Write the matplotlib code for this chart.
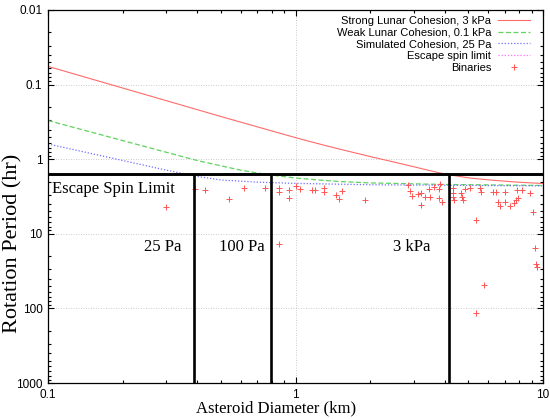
import matplotlib
matplotlib.use("Agg")
import matplotlib.pyplot as plt
from matplotlib.ticker import LogLocator, NullFormatter, FixedFormatter, FixedLocator

# cohesion curves: diameter (km) vs rotation period (hr)
d_strong = [0.1, 0.2, 0.5, 0.804, 1.005, 1.25, 1.50, 2.0, 2.81, 3.34, 3.835, 4.33, 5.07, 6.11, 7.71, 10.0]
p_strong = [0.057, 0.111, 0.268, 0.419, 0.516, 0.626, 0.730, 0.920, 1.196, 1.374, 1.53, 1.65, 1.79, 1.90, 2.02, 2.12]

d_weak = [0.1, 0.15, 0.2, 0.3, 0.4, 0.5, 0.591, 0.70, 0.842, 1.005, 1.256, 1.513, 2.0, 4.0, 10.0]
p_weak = [0.303, 0.435, 0.562, 0.806, 1.04, 1.226, 1.386, 1.53, 1.67, 1.79, 1.905, 1.99, 2.08, 2.18, 2.25]

d_sim = [0.1, 0.15, 0.2, 0.3, 0.4, 0.5, 0.7, 1.0, 2.0, 10.0]
p_sim = [0.626, 0.841, 1.04, 1.40, 1.70, 1.90, 2.03, 2.11, 2.20, 2.28]

escape_period = 1.6
cohesion_bounds = [0.39, 0.796, 4.18]
bound_labels = ["25 Pa", "100 Pa", "3 kPa"]

# binary asteroids
bin_d = [0.30, 0.391, 0.429, 0.540, 0.621, 0.753, 0.860, 0.860, 0.854, 0.941,
         0.941, 1.005, 1.04, 1.163, 1.196, 1.304, 1.304, 1.457, 1.499, 1.548,
         1.909, 2.835, 2.90, 2.956, 3.134, 3.216, 3.21, 3.337, 3.464, 3.496,
         3.628, 3.835, 3.81, 3.80, 3.89, 4.33, 4.33, 4.32, 4.37, 4.65,
         4.69, 4.74, 4.84, 5.05, 5.57, 5.62, 6.30, 6.48, 6.99, 6.60,
         6.70, 7.02, 7.36, 7.63, 7.80, 7.95, 7.87, 8.20, 8.82, 9.11,
         5.34, 9.24, 9.37, 9.46, 5.79, 5.36]
bin_p = [4.39, 2.49, 2.60, 3.46, 2.41, 2.41, 2.41, 2.77, 13.6, 2.60,
         3.33, 2.32, 2.51, 2.62, 2.60, 2.43, 2.77, 3.01, 3.39, 2.69,
         3.57, 2.24, 2.71, 3.16, 2.91, 2.85, 4.17, 3.19, 2.54, 3.21,
         2.39, 2.18, 2.54, 3.29, 3.72, 2.47, 2.82, 3.19, 3.57, 2.82,
         3.19, 3.57, 2.49, 2.43, 2.41, 2.79, 2.77, 2.77, 2.75, 3.80,
         4.30, 3.74, 4.26, 3.83, 3.52, 3.29, 2.57, 2.60, 2.84, 5.09,
         6.51, 15.4, 25.7, 27.6, 48.8, 117.0]

xticks = [0.1, 1, 10]
yticks = [0.01, 0.1, 1, 10, 100, 1000]
ytick_labels = ["0.01", "0.1", "1", "10", "100", "1000"]

serif = ["Liberation Serif", "DejaVu Serif"]
sans = ["Liberation Sans", "DejaVu Sans"]

fig = plt.figure(figsize=(5.5, 4.19), dpi=100)
ax = fig.add_axes([48 / 550, 1 - 383 / 419, 495 / 550, 373 / 419])

ax.plot(d_strong, p_strong, color="#ff6b6b", lw=0.8, label="Strong Lunar Cohesion, 3 kPa")
ax.plot(d_weak, p_weak, color="#5fd35f", lw=0.9, ls=(0, (4, 2)), label="Weak Lunar Cohesion, 0.1 kPa")
ax.plot(d_sim, p_sim, color="#7070ff", lw=0.9, ls=(0, (1, 1.5)), label="Simulated Cohesion, 25 Pa")
ax.plot([0.1, 10], [escape_period, escape_period], color="#ff70ff", lw=0.9, ls=(0, (1, 1.5)),
        label="Escape spin limit")
ax.plot(bin_d, bin_p, ls="none", marker="+", ms=5, mew=0.7, color="#ff5555", label="Binaries")

ax.axhline(escape_period, color="black", lw=2.1, zorder=5)
ax.vlines(cohesion_bounds, escape_period, 1000, color="black", lw=1.9, zorder=5)

ax.set_xscale("log")
ax.set_yscale("log")
ax.set_xlim(0.1, 10)
ax.set_ylim(1000, 0.01)

ax.xaxis.set_major_locator(FixedLocator(xticks))
ax.xaxis.set_major_formatter(FixedFormatter(["0.1", "1", "10"]))
ax.xaxis.set_minor_locator(LogLocator(base=10, subs=range(2, 10)))
ax.xaxis.set_minor_formatter(NullFormatter())
ax.yaxis.set_major_locator(FixedLocator(yticks))
ax.yaxis.set_major_formatter(FixedFormatter(ytick_labels))
ax.yaxis.set_minor_locator(LogLocator(base=10, subs=range(2, 10)))
ax.yaxis.set_minor_formatter(NullFormatter())

ax.tick_params(which="both", direction="in", top=True, right=True, width=0.8)
ax.tick_params(which="major", length=4.5, labelsize=8.5, pad=4)
ax.tick_params(which="minor", length=2.5)
for lab in ax.get_xticklabels() + ax.get_yticklabels():
    lab.set_family(sans)

ax.grid(True, which="major", color="#bbbbbb", ls=(0, (1, 2)), lw=0.6)
for s in ax.spines.values():
    s.set_linewidth(0.9)

ax.text(0.104, 2.88, "Escape Spin Limit", family=serif, fontsize=12, va="baseline", ha="left", zorder=6)
label_x = [0.347, 0.753, 3.50]
for x, t in zip(label_x, bound_labels):
    ax.text(x, 17.0, t, family=serif, fontsize=12, va="baseline", ha="right")

ax.set_xlabel("Asteroid Diameter (km)", family=serif, fontsize=12)
ax.set_ylabel("Rotation Period (hr)", family=serif, fontsize=16)
ax.xaxis.set_label_coords(0.46, -0.046)
ax.yaxis.set_label_coords(-0.051, 0.375)

leg = ax.legend(loc="upper right", bbox_to_anchor=(0.974, 0.984), frameon=False,
                markerfirst=False, prop={"family": sans, "size": 8}, handlelength=2.9,
                handletextpad=0.6, labelspacing=0.15, borderpad=0, borderaxespad=0)

fig.savefig("out.png", dpi=100)
